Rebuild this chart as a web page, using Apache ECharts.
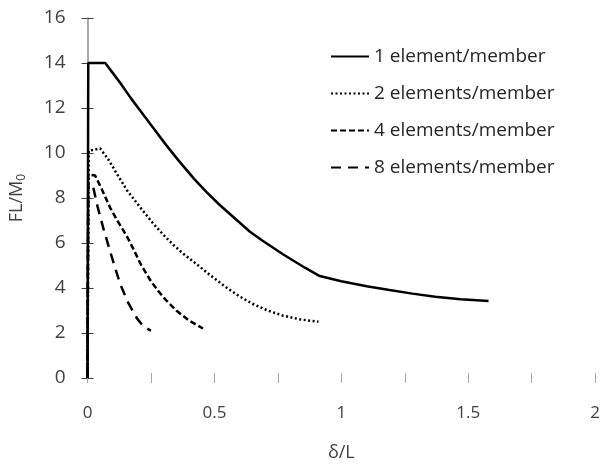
<!DOCTYPE html>
<html>
<head>
<meta charset="utf-8">
<script src="https://cdn.jsdelivr.net/npm/echarts@6/dist/echarts.min.js"></script>
<style>html,body{margin:0;padding:0;background:#fff}#c{width:603px;height:467px}</style>
</head>
<body>
<div id="c"></div>
<script>
var seriesNames = ['1 element/member', '2 elements/member', '4 elements/member', '8 elements/member'];
var s1 = [[0,0],[0.003,14],[0.07,14],[0.1,13.55],[0.13,13.1],[0.17,12.45],[0.22,11.7],[0.26,11.1],[0.31,10.35],[0.36,9.65],[0.42,8.85],[0.47,8.25],[0.52,7.7],[0.58,7.1],[0.64,6.5],[0.69,6.1],[0.73,5.8],[0.77,5.5],[0.81,5.22],[0.86,4.88],[0.915,4.53],[1.0,4.3],[1.1,4.08],[1.19,3.91],[1.28,3.75],[1.37,3.61],[1.47,3.5],[1.58,3.42]];
var s2 = [[0,0],[0.005,10.1],[0.05,10.2],[0.08,9.75],[0.12,9.0],[0.155,8.35],[0.21,7.55],[0.26,6.85],[0.3,6.35],[0.34,5.9],[0.38,5.5],[0.42,5.15],[0.48,4.6],[0.55,4.0],[0.6,3.62],[0.65,3.3],[0.71,3.0],[0.77,2.77],[0.84,2.6],[0.91,2.5]];
var s3 = [[0,0],[0.003,9.05],[0.03,9.0],[0.06,8.3],[0.09,7.55],[0.12,6.95],[0.155,6.3],[0.18,5.75],[0.21,5.05],[0.25,4.3],[0.28,3.85],[0.31,3.45],[0.35,3.0],[0.4,2.55],[0.455,2.2]];
var s4 = [[0,0],[0.003,8.7],[0.02,8.6],[0.04,7.6],[0.065,6.55],[0.09,5.6],[0.11,4.85],[0.13,4.15],[0.16,3.35],[0.195,2.65],[0.22,2.3],[0.25,2.1]];
var xTicks = {min: 0, max: 2, interval: 0.25};
var yTicks = {min: 0, max: 16, interval: 2};

var font = 'Open Sans';
var txt = '#404040';
var chart = echarts.init(document.getElementById('c'));
function mkX(pos, showLabel) {
  return {
    type: 'value', position: pos, min: xTicks.min, max: xTicks.max, interval: xTicks.interval,
    axisLine: {show: false},
    axisTick: {show: true, inside: true, length: 5, lineStyle: {color: '#a6a6a6', width: 1}},
    splitLine: {show: false},
    axisLabel: {show: showLabel, color: txt, fontFamily: font, fontSize: 17, margin: 27,
      formatter: function (v) { return (Math.round(v * 4) % 2 === 0) ? String(v) : ''; }},
    name: showLabel ? 'δ/L' : '', nameLocation: 'middle', nameGap: 66,
    nameTextStyle: {color: txt, fontFamily: font, fontSize: 18}
  };
}
function mkY(pos, showLabel) {
  return {
    type: 'value', position: pos, min: yTicks.min, max: yTicks.max, interval: yTicks.interval,
    axisLine: {show: true, lineStyle: {color: '#a6a6a6', width: 1.5}},
    axisTick: {show: true, inside: true, length: 6, lineStyle: {color: '#404040', width: 1}},
    splitLine: {show: false},
    axisLabel: {show: showLabel, color: txt, fontFamily: font, fontSize: 19, margin: 22},
    name: showLabel ? 'FL/M{s|0}' : '', nameLocation: 'middle', nameGap: 60, nameRotate: 90,
    nameTextStyle: {color: txt, fontFamily: font, fontSize: 18,
      rich: {s: {fontSize: 12, fontFamily: font, color: txt, verticalAlign: 'bottom', padding: [9,0,0,0]}}}
  };
}
var styles = [
  {type: 'solid', width: 2.5},
  {type: [2, 2.5], width: 2.5},
  {type: [6, 3], width: 2.5},
  {type: [10, 7], width: 2.5}
];
var datas = [s1, s2, s3, s4];
chart.setOption({
  animation: false,
  backgroundColor: '#fff',
  grid: {left: 87, right: 6, top: 18, bottom: 87, containLabel: false},
  legend: {
    orient: 'vertical', left: 330, top: 47, padding: 0, itemGap: 18, itemWidth: 38, itemHeight: 14,
    itemStyle: {opacity: 0},
    textStyle: {color: '#262626', fontFamily: font, fontSize: 19},
    data: seriesNames
  },
  xAxis: [mkX('bottom', true), mkX('top', false)],
  yAxis: [mkY('left', true), mkY('right', false)],
  series: datas.map(function (d, i) {
    return {
      name: seriesNames[i], type: 'line', data: d, showSymbol: false, symbol: 'none',
      xAxisIndex: 0, yAxisIndex: 0,
      lineStyle: {color: '#000', width: styles[i].width, type: styles[i].type, cap: 'butt'},
      itemStyle: {color: '#000'}
    };
  })
});
</script>
</body>
</html>
